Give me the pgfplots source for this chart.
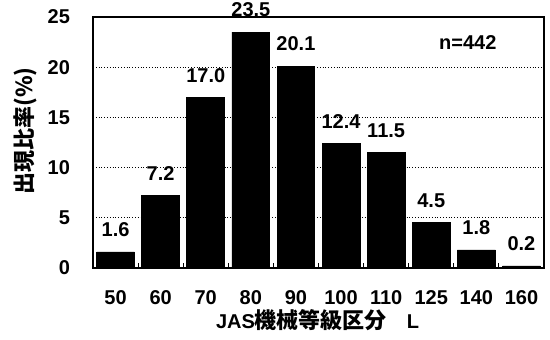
\documentclass[border=0pt]{standalone}
\usepackage{fontspec}
\setmainfont{Liberation Sans}
\newfontfamily\cjk{Noto Sans CJK JP}
\usepackage{pgfplots}
\usepackage{pgfplotstable}
\pgfplotsset{compat=1.18}

% JAS machine stress grade distribution (n=442)
\pgfplotstableread{
pos grade share
0 50 1.6
1 60 7.2
2 70 17.0
3 80 23.5
4 90 20.1
5 100 12.4
6 110 11.5
7 125 4.5
8 140 1.8
9 160 0.2
}\gradetable

\newcommand\lab{\bfseries\fontsize{10}{11}\selectfont}

\begin{document}
\begin{tikzpicture}
\begin{axis}[
  scale only axis,
  width=225.5pt, height=125.5pt,
  ybar, bar width=0.84,
  xmin=-0.5, xmax=9.5,
  ymin=0, ymax=25,
  ytick={0,5,10,15,20,25},
  xtick={0,1,2,3,4,5,6,7,8,9},
  xticklabels={50,60,70,80,90,100,110,125,140,160},
  major tick length=0pt,
  minor x tick num=1,
  minor tick length=2.5pt,
  tick align=inside,
  xtick pos=bottom, ytick pos=left,
  ymajorgrids,
  grid style={densely dotted, black, line width=0.6pt},
  axis line style={line width=1pt},
  every minor tick/.style={black, line width=0.6pt},
  tick label style={font=\lab},
  xticklabel style={yshift=-7.5pt},
  yticklabel style={xshift=-8pt},
  /pgf/number format/assume math mode=true,
  clip=false,
  nodes near coords,
  nodes near coords style={font=\lab, yshift=4pt,
    /pgf/number format/.cd, fixed, fixed zerofill, precision=1, assume math mode=true},
  ylabel={\cjk\bfseries\fontsize{11}{11}\selectfont 出現比率(\%)},
  ylabel style={at={(axis description cs:-0.150,0.546)}, anchor=center},
  xlabel={\lab JAS{\cjk\bfseries\fontsize{11}{11}\selectfont 機械等級区分}\hspace{1em}L},
  xlabel style={at={(axis description cs:0.498,-0.207)}, anchor=center},
]
\addplot[fill=black, draw=black] table[x=pos, y=share] {\gradetable};
\node[font=\lab] at (axis cs:7.81,22.5) {n=442};
\end{axis}
\pgfresetboundingbox
\path (-46.5pt,-36pt) rectangle (228.5pt,134pt);
\end{tikzpicture}
\end{document}
